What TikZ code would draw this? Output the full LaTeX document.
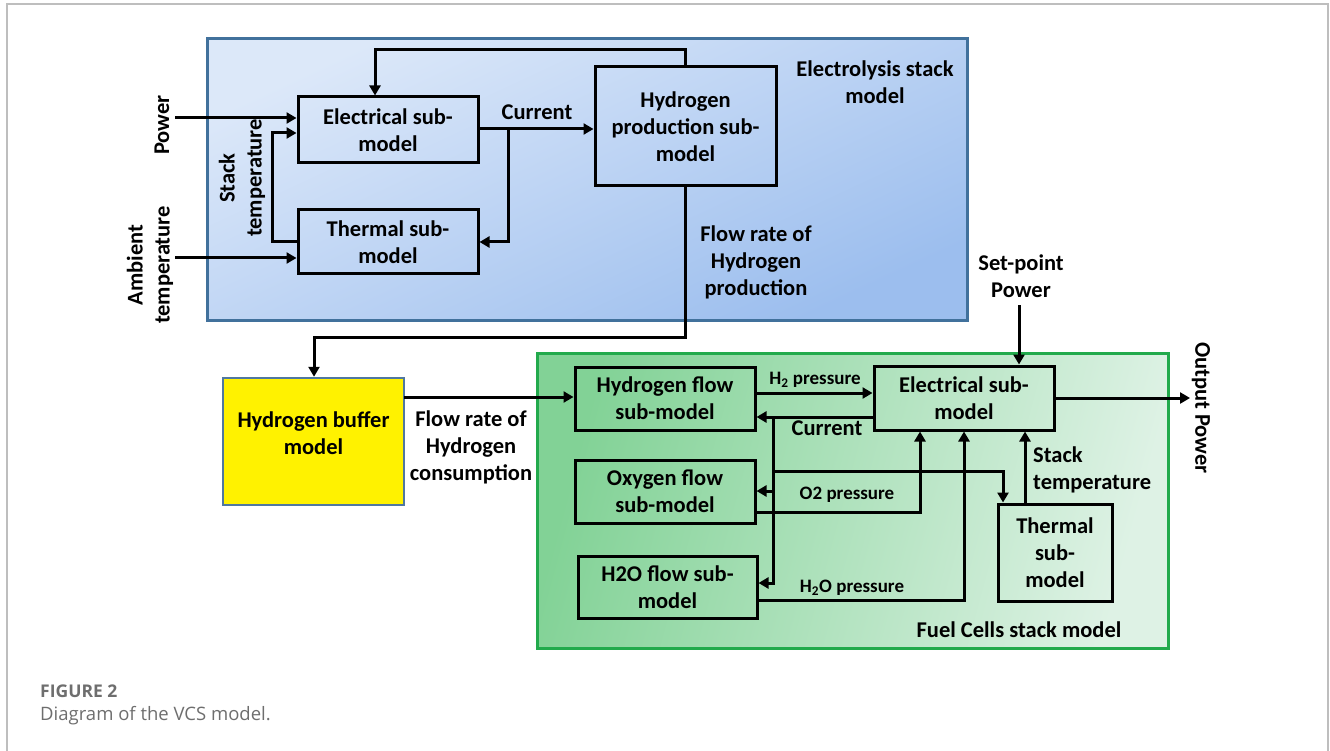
\documentclass[tikz,border=0pt]{standalone}
\usepackage{fontspec}
\setmainfont{Carlito}
\newfontfamily\capfont{Open Sans}
\usetikzlibrary{arrows.meta}
\definecolor{blueT}{RGB}{220,232,249}
\definecolor{blueB}{RGB}{156,190,238}
\definecolor{blueE}{RGB}{65,113,156}
\definecolor{greenL}{RGB}{130,210,150}
\definecolor{greenR}{RGB}{222,242,229}
\definecolor{greenE}{RGB}{34,170,76}
\definecolor{bufE}{RGB}{80,120,160}
\definecolor{capgray}{RGB}{110,110,110}
\definecolor{framegray}{RGB}{190,190,190}
\newcommand\lblfont{\bfseries\fontsize{22.5}{27}\selectfont}
\newcommand\smallfont{\bfseries\fontsize{19}{22}\selectfont}
\begin{document}
\begin{tikzpicture}[x=1pt,y=-1pt,
  box/.style={draw=black, line width=3pt, align=center, inner sep=0pt, font=\lblfont},
  txt/.style={font=\lblfont, align=center, inner sep=0pt},
  small/.style={font=\smallfont, inner sep=0pt},
  ln/.style={line width=3pt},
  arr/.style={line width=3pt, -{Triangle[length=10pt,width=11pt]}}]
\useasboundingbox (0,0) rectangle (1330,751);
\draw[framegray, line width=2pt] (6.5,751) -- (6.5,4) -- (1328,4) -- (1328,751);

% containers
\node[draw=blueE, line width=3pt, top color=blueT, bottom color=blueB, shading angle=25,
  minimum width=760pt, minimum height=281pt, inner sep=0pt] (eb) at (587,179.5) {};
\node[draw=greenE, line width=3pt, left color=greenL, right color=greenR, shading angle=75,
  minimum width=631pt, minimum height=295pt, inner sep=0pt] (gb) at (852.5,500.5) {};

% electrolysis blocks
\node[box, minimum width=180pt, minimum height=66pt] (ee) at (388,130) {Electrical sub-\\model};
\node[box, minimum width=180pt, minimum height=64pt] (et) at (388,242) {Thermal sub-\\model};
\node[box, minimum width=181pt, minimum height=119pt] (hp) at (685.5,126.5) {Hydrogen\\production sub-\\model};
\node[txt] (ebl) at (875,82) {Electrolysis stack\\model};

\coordinate (pw) at (175,118);
\draw[arr] (pw) -- (pw -| ee.west);
\node[txt, rotate=90] (pwl) at (162,125) {Power};
\coordinate (at) at (175,258);
\draw[arr] (at) -- (at -| et.west);
\node[txt, rotate=90] (atl) at (150,265) {Ambient\\temperature};
\coordinate (st1) at (272,242);
\coordinate (st2) at (272,133);
\draw[arr] (et.west) -- (st1) -- (st2) -- (st2 -| ee.west);
\node[txt, rotate=90] (stl) at (242,178) {Stack\\temperature};
\coordinate (cu) at (508,129);
\draw[arr] (cu -| ee.east) -- (cu -| hp.west);
\draw[arr] (cu) |- (et.east);
\node[txt] (cul) at (537,112) {Current};
\coordinate (fb) at (375,50);
\draw[arr] (hp.north) |- (fb) -- (fb |- ee.north);

% buffer
\node[draw=bufE, line width=2.5pt, fill=yellow, minimum width=181pt, minimum height=127pt, inner sep=0pt] (hb) at (313.5,441.5) {};
\node[txt] (hbl) at (313.5,433.5) {Hydrogen buffer\\model};
\coordinate (f1) at (314,337);
\draw[arr] (hp.south) |- (f1) -- (f1 |- hb.north);
\node[txt] (fpl) at (756,262) {Flow rate of\\Hydrogen\\production};

% fuel cell blocks
\node[box, minimum width=180pt, minimum height=63pt] (hf) at (665,398.5) {Hydrogen flow\\sub-model};
\node[box, minimum width=180pt, minimum height=63pt] (of) at (665,491.5) {Oxygen flow\\sub-model};
\node[box, minimum width=179pt, minimum height=62pt] (wf) at (667.5,587) {H2O flow sub-\\model};
\node[box, minimum width=180pt, minimum height=64pt] (fe) at (964,398) {Electrical sub-\\model};
\node[box, minimum width=114pt, minimum height=97pt] (ft) at (1055,552.5) {Thermal\\sub-\\model};
\node[txt] (fcl) at (1019,630) {Fuel Cells stack model};

\coordinate (fc) at (404,397);
\draw[arr] (fc) -- (fc -| hf.west);
\node[txt] (fcn) at (471,447) {Flow rate of\\Hydrogen\\consumption};

\coordinate (h2p) at (755,393);
\draw[arr] (h2p) -- (h2p -| fe.west);
\node[small] (h2l) at (815,380) {H\textsubscript{2} pressure};

\coordinate (cc) at (773,417);
\coordinate (co) at (773,491);
\coordinate (cw) at (773,583);
\coordinate (ct) at (773,471);
\coordinate (ct2) at (1003,471);
\draw[arr] (cc -| fe.west) -- (cc -| hf.east);
\draw[arr] (cc) -- (cw) -- (cw -| wf.east);
\draw[arr] (co) -- (co -| of.east);
\draw[arr] (ct) -- (ct2) -- (ct2 |- ft.north);
\node[txt] (ccl) at (827,428) {Current};

\coordinate (op) at (755,512);
\coordinate (op2) at (920,512);
\draw[arr] (op) -- (op2) -- (op2 |- fe.south);
\node[small] (o2l) at (847,495) {O2 pressure};

\coordinate (wp) at (757,600);
\coordinate (wp2) at (964,600);
\draw[arr] (wp) -- (wp2) -- (wp2 |- fe.south);
\node[small] (wpl) at (852,588) {H\textsubscript{2}O pressure};

\coordinate (sx) at (1025,504);
\draw[arr] (sx) -- (sx |- fe.south);
\node[txt, align=left, anchor=west] (sxl) at (1033,469.5) {Stack\\temperature};

\node[txt] (spl) at (1021,276.5) {Set-point\\Power};
\coordinate (sp) at (1019,305);
\draw[arr] (sp) -- (sp |- fe.north);

\coordinate (outp) at (1190,398);
\draw[arr] (fe.east) -- (outp);
\node[txt, rotate=-90] (outl) at (1201,408) {Output Power};

% caption
\node[anchor=west, inner sep=0pt, text=capgray, font=\capfont\bfseries\fontsize{17.5}{20}\selectfont] (cap1) at (40,691) {FIGURE 2};
\node[anchor=west, inner sep=0pt, text=capgray, font=\capfont\fontsize{18.5}{20}\selectfont] (cap2) at (40,716) {Diagram of the VCS model.};
\end{tikzpicture}
\end{document}
